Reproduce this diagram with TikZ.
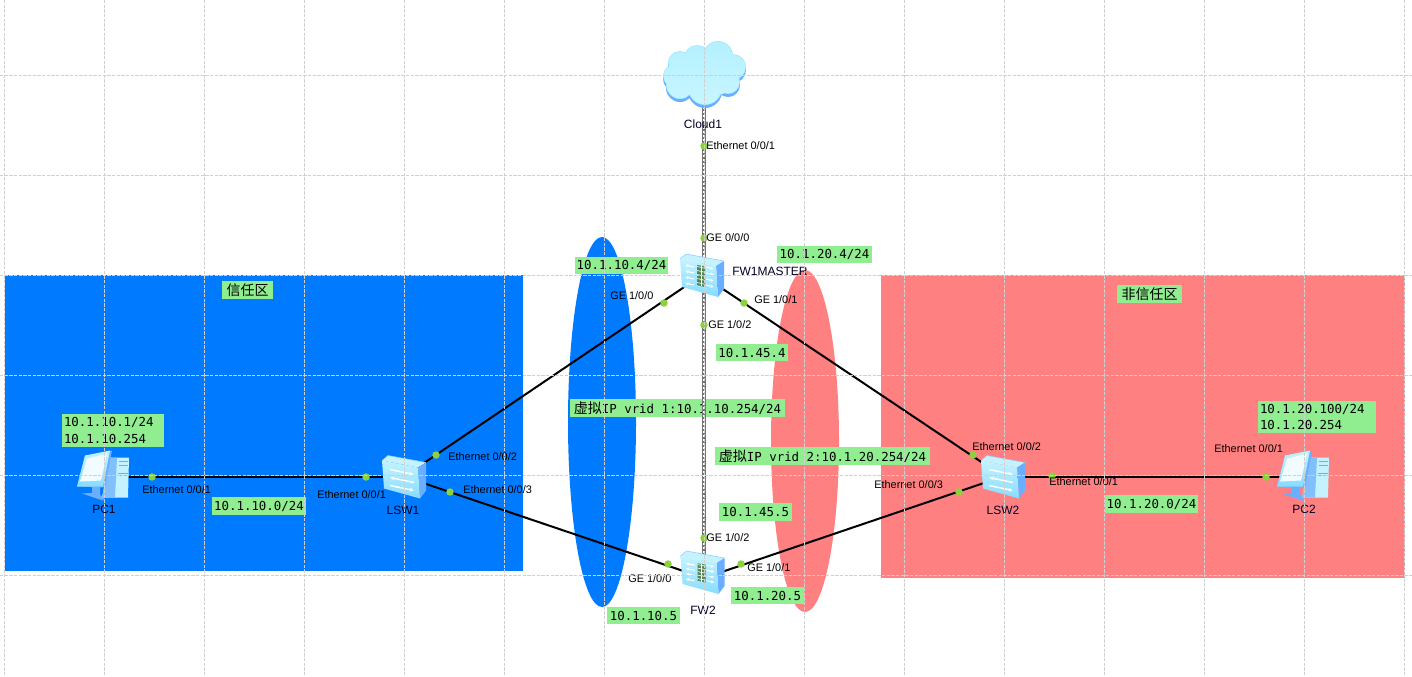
\documentclass[tikz,border=0pt]{standalone}
\usepackage{fontspec}
\setmainfont{Liberation Sans}
\setmonofont{DejaVu Sans Mono}
\newfontfamily\cjkf{Noto Sans CJK SC}
\usetikzlibrary{arrows.meta}
\definecolor{zoneblue}{HTML}{007BFF}
\definecolor{zonered}{HTML}{FF8080}
\definecolor{labgreen}{HTML}{90EE90}
\definecolor{dotgreen}{HTML}{8CD23C}
\definecolor{gridc}{HTML}{D0D0D0}
\definecolor{iconside}{HTML}{6AAEFF}
\definecolor{iconlight}{HTML}{C4F3FF}
\definecolor{iconmid}{HTML}{86DCFF}
\definecolor{iconedge}{HTML}{8FCBFF}
\definecolor{cloudtop}{HTML}{B4F0FF}
\definecolor{cloudlow}{HTML}{C8F6FF}
\tikzset{
  x=0.75pt,y=-0.75pt,
  zone/.style={fill=#1,draw=none},
  lab/.style 2 args={fill=labgreen,inner sep=0pt,minimum width=#1*0.75pt,minimum height=#2*0.75pt,
    font=\ttfamily\fontsize{9.3}{12.5}\selectfont,align=left,text=black},
  port/.style={inner sep=0pt,anchor=west,font=\fontsize{8.2}{10}\selectfont,text=black},
  devname/.style={inner sep=0pt,font=\fontsize{9}{11}\selectfont,text=black!85!blue},
  dot/.style={circle,fill=dotgreen,draw=none,inner sep=0pt,minimum size=5.6pt},
  wire/.style={draw=black,line width=1.5pt},
  graywire/.style={draw=black!55,line width=2.6pt,postaction={draw=white,line width=0.8pt,dash pattern=on 1.5pt off 1.5pt}},
  gridline/.style={draw=gridc,line width=0.6pt,dash pattern=on 2.6pt off 0.9pt},
  box3d/.pic={
    \fill[iconlight] (-22,-16) -- (-16,-21) -- (22,-14) -- (14,-9) -- cycle;
    \fill[iconside] (14,-9) -- (22,-14) -- (22,14) -- (16,22) -- cycle;
    \shade[top color=iconlight,bottom color=iconmid] (-22,-16) -- (14,-9) -- (16,22) -- (-20,12) -- cycle;
    \draw[iconedge,line width=0.4pt] (-22,-16) -- (-16,-21) -- (22,-14);
  },
  switchicon/.pic={
    \pic {box3d};
    \draw[white,line width=1.1pt,-{Latex[length=3pt,width=3pt]}] (-14,-7) -- (10,-2);
    \draw[white,line width=1.1pt,{Latex[length=3pt,width=3pt]}-] (-14,1) -- (10,6);
    \draw[white,line width=1.1pt,-{Latex[length=3pt,width=3pt]}] (-14,9) -- (10,14);
  },
  fwicon/.pic={
    \pic {box3d};
    \foreach \yy in {-9,-3,3,9}{
      \draw[white,line width=0.8pt,{Latex[length=2.5pt,width=2.5pt]}-] (-17,\yy-1) -- (-8,\yy+1);
      \draw[white,line width=0.8pt,-{Latex[length=2.5pt,width=2.5pt]}] (4,\yy+1) -- (12,\yy+3);
    }
    \fill[black!45!green!35!gray] (-5,-10) -- (3,-8.5) -- (3,12) -- (-5,10) -- cycle;
    \foreach \yy in {-7,-3,1,5,9}{
      \draw[white,line width=0.5pt] (-5,\yy-1.5) -- (3,\yy+0.3);
    }
    \draw[white,line width=0.5pt] (-1,-9.5) -- (-1,11);
  },
  pcicon/.pic={
    \fill[iconside] (-22,17) -- (-6,16) -- (0,22) -- (-1,24) -- cycle;
    \fill[iconside] (-12,8) -- (-4,8) -- (-4,19) -- (-12,17) -- cycle;
    \fill[iconlight] (6,-19) -- (25,-19) -- (24,21) -- (-2,21) -- cycle;
    \fill[iconside!75!iconlight] (6,-19) -- (13,-19) -- (11,21) -- (-2,21) -- cycle;
    \draw[iconside,line width=0.4pt] (15,-15) -- (24,-15) (15,-11) -- (24,-11) (14,-3) -- (24,-3) (14,-1) -- (24,-1);
    \fill[iconside] (-19,-20) -- (8,-26) -- (1,11) -- (-27,10) -- cycle;
    \shade[top color=iconlight,bottom color=iconmid] (-19,-21) -- (6,-26) -- (-1,10) -- (-27,10) -- cycle;
    \fill[white!75!iconlight] (-17,-18) -- (3,-23) -- (-3,4) -- (-24,5) -- cycle;
  },
  cloudicon/.pic={
    \fill[iconside] (-24,-12+3) circle[radius=12] (-7,-17+3) circle[radius=13] (14,-19+3) circle[radius=15]
      (29,-8+3) circle[radius=13] (24,7+3) circle[radius=12] (1,13+3) circle[radius=17]
      (-24,10+3) circle[radius=14] (-29,1+3) circle[radius=12];
    \fill[iconedge!70!cyan!60!white] (-24,-12) circle[radius=12] (-7,-17) circle[radius=13] (14,-19) circle[radius=15]
      (29,-8) circle[radius=13] (24,7) circle[radius=12] (1,13) circle[radius=17]
      (-24,10) circle[radius=14] (-29,1) circle[radius=12];
    \shade[top color=cloudtop,bottom color=cloudlow] (-24,-12) circle[radius=11.2] (-7,-17) circle[radius=12.2] (14,-19) circle[radius=14.2]
      (29,-8) circle[radius=12.2] (24,7) circle[radius=11.2] (1,13) circle[radius=16.2]
      (-24,10) circle[radius=13.2] (-29,1) circle[radius=11.2] (-4,-5) circle[radius=20] (12,0) circle[radius=20];
  },
}
\begin{document}
\begin{tikzpicture}
\useasboundingbox (0,0) rectangle (1412,676);
\fill[white] (0,0) rectangle (1412,676);
% zones
\path[zone=zoneblue] (5,275) rectangle (523,571);
\path[zone=zonered] (881,275) rectangle (1405,578);
\path[zone=zoneblue] (602,422) ellipse [x radius=34,y radius=185];
\path[zone=zonered] (805,441) ellipse [x radius=34,y radius=171];
% device anchors
\coordinate (cloud) at (704,75);
\coordinate (fw1) at (702,275);
\coordinate (fw2) at (704,578);
\coordinate (lsw1) at (404,476.5);
\coordinate (lsw2) at (1003,476.5);
\coordinate (pc1) at (104,476.5);
\coordinate (pc2) at (1304,476.5);
% address labels
\node[lab={93}{17}] (a1) at (621.5,265.5) {10.1.10.4/24};
\node[lab={95}{17}] (a2) at (824.5,254.5) {10.1.20.4/24};
\node[lab={72}{17}] (a3) at (752,352.5) {10.1.45.4};
\node[lab={215}{18}] (a4) at (677.5,408) {{\cjkf\fontsize{10.5}{12}\selectfont 虚拟}IP vrid 1:10.1.10.254/24};
\node[lab={215}{18}] (a5) at (822.5,456) {{\cjkf\fontsize{10.5}{12}\selectfont 虚拟}IP vrid 2:10.1.20.254/24};
\node[lab={73}{18}] (a6) at (755.5,512) {10.1.45.5};
\node[lab={73}{17}] (a7) at (767.5,595.5) {10.1.20.5};
\node[lab={73}{17}] (a8) at (643.5,615.5) {10.1.10.5};
\node[lab={94}{18}] (a9) at (259,506) {10.1.10.0/24};
\node[lab={93}{18}] (a10) at (1151.5,504) {10.1.20.0/24};
\node[lab={102}{33},text width=73.5pt] (a11) at (113,430.5) {10.1.10.1/24\\10.1.10.254};
\node[lab={118}{32},text width=85.5pt] (a12) at (1317,417) {10.1.20.100/24\\10.1.20.254};
\node[lab={51}{18}] (z1) at (247.5,290) {\cjkf\fontsize{10.5}{12}\selectfont 信任区};
\node[lab={65}{18}] (z2) at (1149.5,294) {\cjkf\fontsize{10.5}{12}\selectfont 非信任区};
% connectors
\draw[graywire] (cloud) -- (fw2);
\draw[wire] (fw1) -- (lsw1);
\draw[wire] (fw1) -- (lsw2);
\draw[wire] (fw2) -- (lsw1);
\draw[wire] (fw2) -- (lsw2);
\draw[wire] (pc1) -- (lsw1);
\draw[wire] (lsw2) -- (pc2);
% icons
\pic at (cloud) {cloudicon};
\pic at (fw1) {fwicon};
\pic[xshift=-1.1pt,yshift=4.5pt,yscale=0.87] at (fw2) {fwicon};
\pic at (lsw1) {switchicon};
\pic at (lsw2) {switchicon};
\pic at (pc1) {pcicon};
\pic at (pc2) {pcicon};
% port dots
\node[dot] (d1) at (704,146) {};
\node[dot] (d2) at (704,238) {};
\node[dot] (d3) at (704,325) {};
\node[dot] (d4) at (704,538) {};
\node[dot] (d5) at (664,303) {};
\node[dot] (d6) at (744,303) {};
\node[dot] (d7) at (436,455) {};
\node[dot] (d8) at (450,492) {};
\node[dot] (d9) at (366,477) {};
\node[dot] (d10) at (152,477) {};
\node[dot] (d11) at (668,564) {};
\node[dot] (d12) at (741,564) {};
\node[dot] (d13) at (973,455) {};
\node[dot] (d14) at (959,492) {};
\node[dot] (d15) at (1052,476) {};
\node[dot] (d16) at (1266,477) {};
% port labels
\node[port] (p1) at (706,146) {Ethernet 0/0/1};
\node[port] (p2) at (706,238) {GE 0/0/0};
\node[port] (p3) at (610,296) {GE 1/0/0};
\node[port] (p4) at (754,300) {GE 1/0/1};
\node[port] (p5) at (708,325) {GE 1/0/2};
\node[port] (p6) at (142,490) {Ethernet 0/0/1};
\node[port] (p7) at (317,495) {Ethernet 0/0/1};
\node[port] (p8) at (448,457) {Ethernet 0/0/2};
\node[port] (p9) at (463,490) {Ethernet 0/0/3};
\node[port] (p10) at (706,538) {GE 1/0/2};
\node[port] (p11) at (747,568) {GE 1/0/1};
\node[port] (p12) at (628,579) {GE 1/0/0};
\node[port] (p13) at (972,447) {Ethernet 0/0/2};
\node[port] (p14) at (874,485) {Ethernet 0/0/3};
\node[port] (p15) at (1049,482) {Ethernet 0/0/1};
\node[port] (p16) at (1214,449) {Ethernet 0/0/1};
% device names
\node[devname] (n1) at (703,124) {Cloud1};
\node[devname,anchor=west] (n2) at (732,271) {FW1MASTER};
\node[devname] (n3) at (703,610) {FW2};
\node[devname] (n4) at (403,510) {LSW1};
\node[devname] (n5) at (1003,510) {LSW2};
\node[devname] (n6) at (104,509) {PC1};
\node[devname] (n7) at (1304,509) {PC2};
% grid on top
\foreach \gx in {4.5,104.5,...,1404.5}{\draw[gridline] (\gx,0) -- (\gx,676);}
\foreach \gy in {75.5,175.5,...,575.5}{\draw[gridline] (0,\gy) -- (1412,\gy);}
\end{tikzpicture}
\end{document}
